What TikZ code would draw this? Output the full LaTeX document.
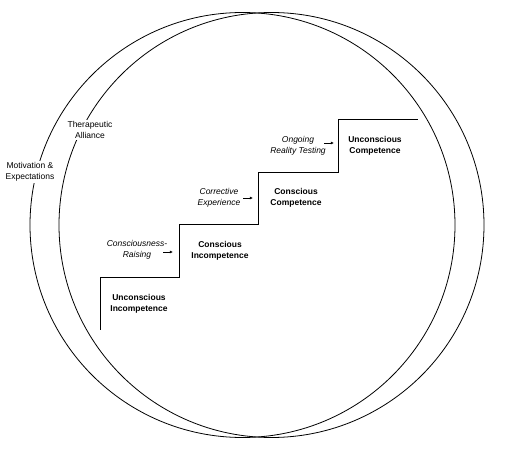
\documentclass[tikz,border=0pt]{standalone}
\usepackage{fontspec}
\setmainfont{Liberation Sans}
\usetikzlibrary{arrows.meta}
\begin{document}
\begin{tikzpicture}[x=1pt,y=-1pt,
  lbl/.style={font=\fontsize{8.5}{10.5}\selectfont, align=center, inner sep=1.5pt},
  stage/.style={lbl, font=\fontsize{8.5}{10.5}\selectfont\bfseries},
  proc/.style={lbl, font=\fontsize{8.5}{10.5}\selectfont\itshape},
  ring/.style={line width=0.8pt},
  stair/.style={line width=0.9pt, line join=miter},
  arr/.style={line width=0.6pt, -{Latex[length=3.2pt,width=3pt]}}]
\useasboundingbox (0,0) rectangle (512,454);
\fill[white] (0,0) rectangle (512,454);
% circles
\draw[ring] (242.5,225) circle[radius=212.5pt];
\draw[ring] (271.5,225) circle[radius=212.5pt];
% circle labels
\node[lbl, fill=white] (mot) at (30,172) {Motivation \&\\Expectations};
\node[lbl, fill=white] (ther) at (90,130) {Therapeutic\\Alliance};
% staircase
\draw[stair] (100,330) -- (100,277.5) -- (179,277.5) -- (179,224.5) -- (258.5,224.5)
  -- (258.5,172) -- (338,172) -- (338,119) -- (418,119);
% stages
\node[stage] (ui) at (139,304) {Unconscious\\Incompetence};
\node[stage] (ci) at (220,251) {Conscious\\Incompetence};
\node[stage] (cc) at (296,198) {Conscious\\Competence};
\node[stage] (uc) at (375,146) {Unconscious\\Competence};
% processes
\node[proc] (cr) at (137,250) {Consciousness-\\Raising};
\node[proc] (ce) at (219,198) {Corrective\\Experience};
\node[proc] (ort) at (298,146) {Ongoing\\Reality Testing};
\coordinate (a1s) at (163,252);
\coordinate (a1e) at (173,252);
\coordinate (a2s) at (243,198);
\coordinate (a2e) at (253,198);
\coordinate (a3s) at (324,143);
\coordinate (a3e) at (334,143);
\draw[arr] (a1s) -- (a1e);
\draw[arr] (a2s) -- (a2e);
\draw[arr] (a3s) -- (a3e);
\end{tikzpicture}
\end{document}
